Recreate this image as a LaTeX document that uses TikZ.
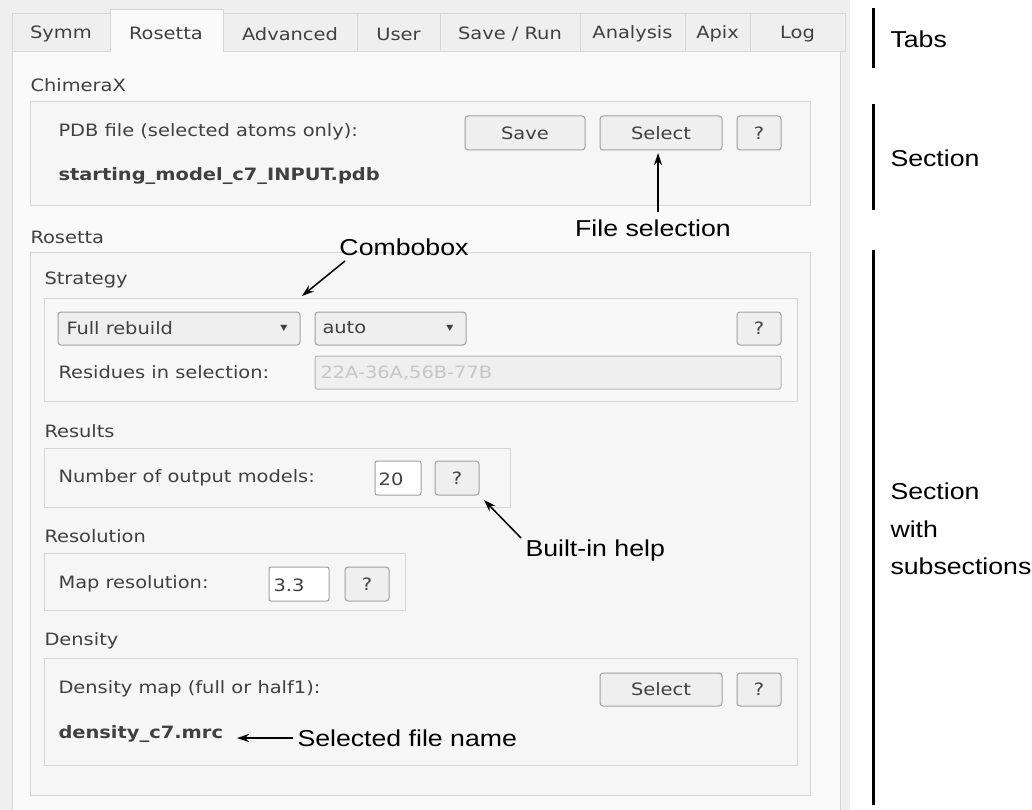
\documentclass[tikz,border=0pt]{standalone}
\usepackage{fontspec}
\setmainfont{DejaVu Sans Condensed}[FakeStretch=1.27]
\newfontfamily\annfont{Liberation Sans}[FakeStretch=1.16]
\usetikzlibrary{arrows.meta}
\definecolor{guibg}{HTML}{EFEFEF}
\definecolor{panel}{HTML}{FAFAFA}
\definecolor{boxbg}{HTML}{F6F6F6}
\definecolor{bord}{HTML}{D6D6D6}
\definecolor{gtext}{HTML}{404040}
\tikzset{
 every path/.style={line width=1pt},
 tab/.style={draw=bord,fill=guibg},
 grp/.style={draw=bord,fill=boxbg},
 btn/.style={draw=bord!75!black,fill=guibg,rounded corners=3pt},
 fld/.style={draw=bord!75!black,fill=white,rounded corners=2pt},
 lbl/.style={anchor=west,inner sep=0pt,text=gtext,font=\fontsize{17}{20}\selectfont},
 ctr/.style={inner sep=0pt,text=gtext,font=\fontsize{17}{20}\selectfont},
 ann/.style={inner sep=0pt,font=\annfont\fontsize{23}{27}\selectfont},
 arr/.style={-{Stealth[length=12pt,width=8pt]},line width=1.5pt},
 bar/.style={line width=3pt}
}
\begin{document}
\begin{tikzpicture}[x=1pt,y=-1pt]
\useasboundingbox (0,0) rectangle (1032,810);
\fill[white] (0,0) rectangle (1032,810);
\fill[guibg] (0,0) rectangle (850,810);
% panel
\draw[bord,fill=panel] (12,52) rectangle (840,812);
% tabs
\foreach \a/\b/\t in {12/110/Symm,223/357/Advanced,357/440/User,440/580/{Save / Run},580/685/Analysis,685/750/Apix,750/845/Log}{
  \draw[tab] (\a,14) rectangle (\b,52);
  \node[ctr] at ({(\a+\b)/2},34) {\t};
}
\draw[bord,fill=panel] (110,52) -- (110,10) -- (223,10) -- (223,52);
\node[ctr] (tabr) at (166,33) {Rosetta};
% ChimeraX section
\node[lbl] (chx) at (30,85) {ChimeraX};
\draw[grp] (30,102) rectangle (810,206);
\node[lbl] (pdb) at (58,132) {PDB file (selected atoms only):};
\draw[btn] (465,116) rectangle (585,150); \node[ctr] (save) at (525,133) {Save};
\draw[btn] (600,116) rectangle (722,150); \node[ctr] (sel1) at (661,133) {Select};
\draw[btn] (737,116) rectangle (781,150); \node[ctr] (q1) at (759,133) {?};
\node[lbl,font=\bfseries\fontsize{17}{20}\selectfont] (sm) at (58,176) {starting\_model\_c7\_INPUT.pdb};
% Rosetta section
\node[lbl] (ros) at (30,237) {Rosetta};
\draw[grp] (30,252) rectangle (810,795);
\node[lbl] (strat) at (44,280) {Strategy};
\draw[grp,fill=panel!60!boxbg] (44,298) rectangle (797,401);
\draw[btn] (58,312) rectangle (300,345); \node[lbl] (fr) at (66,328) {Full rebuild};
\node[ctr,font=\fontsize{8}{9}\selectfont] (dd1) at (284,328) {▼};
\draw[btn] (315,312) rectangle (466,345); \node[lbl] (auto) at (322,328) {auto};
\node[ctr,font=\fontsize{8}{9}\selectfont] (dd2) at (450,328) {▼};
\draw[btn] (737,312) rectangle (781,345); \node[ctr] (q2) at (759,328) {?};
\node[lbl] (res) at (58,372) {Residues in selection:};
\draw[bord!85!black,fill=guibg,rounded corners=2pt] (315,356) rectangle (781,389);
\node[lbl,text=gray!45] (resf) at (320,373) {22A-36A,56B-77B};
\node[lbl] (rsl) at (44,431) {Results};
\draw[grp] (44,448) rectangle (510,507);
\node[lbl] (nom) at (58,478) {Number of output models:};
\draw[fld] (375,461) rectangle (421,495); \node[ctr] (n20) at (391,479) {20};
\draw[btn] (435,461) rectangle (479,495); \node[ctr] (q3) at (457,478) {?};
\node[lbl] (rsn) at (44,536) {Resolution};
\draw[grp] (44,553) rectangle (405,610);
\node[lbl] (mr) at (58,584) {Map resolution:};
\draw[fld] (269,567) rectangle (329,601); \node[ctr] (v33) at (289,585) {3.3};
\draw[btn] (345,567) rectangle (389,601); \node[ctr] (q4) at (367,584) {?};
\node[lbl] (den) at (44,641) {Density};
\draw[grp] (44,658) rectangle (797,765);
\node[lbl] (dm) at (58,689) {Density map (full or half1):};
\draw[btn] (600,673) rectangle (722,706); \node[ctr] (sel2) at (661,689) {Select};
\draw[btn] (737,673) rectangle (781,706); \node[ctr] (q5) at (759,689) {?};
\node[lbl,font=\bfseries\fontsize{17}{20}\selectfont] (dfile) at (58,734) {density\_c7.mrc};
% annotations
\draw[bar] (873,8) -- (873,68);
\node[ann,anchor=west] (tabs) at (890,39) {Tabs};
\draw[bar] (873,104) -- (873,210);
\node[ann,anchor=west] (sec) at (890,158) {Section};
\draw[bar] (873,250) -- (873,805);
\node[ann,anchor=west,align=left,font=\annfont\fontsize{23}{37.5}\selectfont] (secs) at (890,529) {Section\\with\\subsections};
\node[ann] (fs) at (653,228) {File selection};
\draw[arr] (658,212) -- (658,153);
\node[ann] (cb) at (404,247) {Combobox};
\coordinate (cbt) at (302,296);
\draw[arr] (345,261) -- (cbt);
\node[ann,anchor=west] (bh) at (525,551) {Built-in help};
\coordinate (bht) at (484,500);
\draw[arr] (521,538) -- (bht);
\node[ann,anchor=west] (sfn) at (297,738) {Selected file name};
\draw[arr] (sfn.west) ++(-4,0) -- (237,738);
\end{tikzpicture}
\end{document}
